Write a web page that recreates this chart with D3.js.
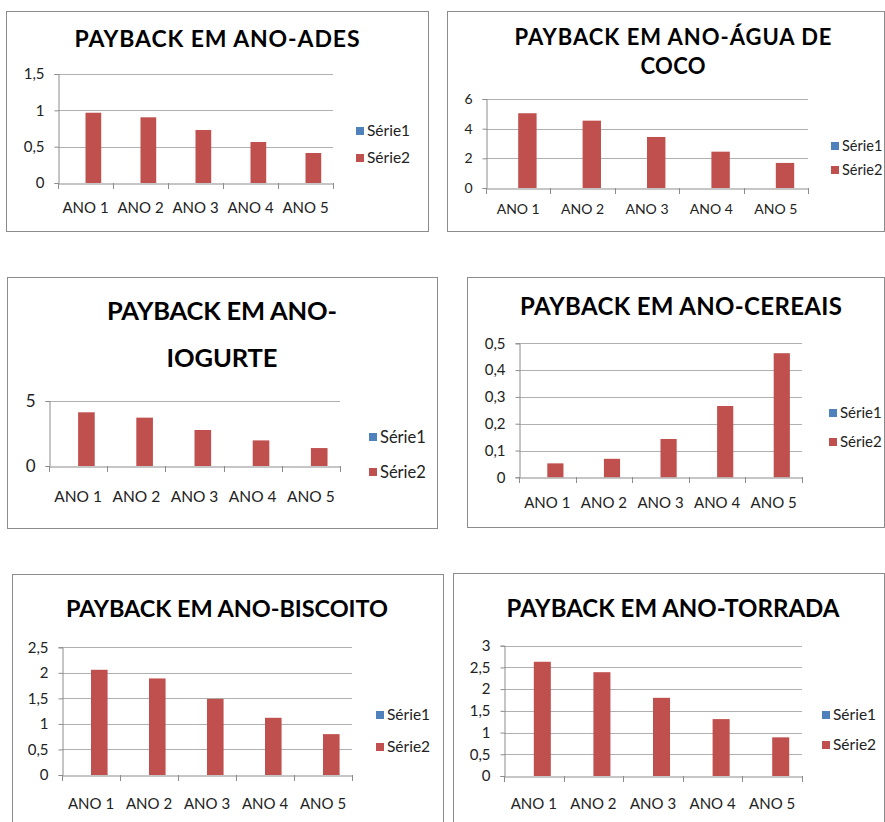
<!DOCTYPE html>
<html><head><meta charset="utf-8">
<script src="https://cdn.jsdelivr.net/npm/d3@7"></script>
<style>
html,body{margin:0;padding:0;background:#fff;}
svg{display:block;}
text{font-family:Lato,"Open Sans",sans-serif;fill:#222;}
</style></head>
<body>
<svg id="chart" width="885" height="822"></svg>
<script>
// ---- data ----
const categories = ["ANO 1","ANO 2","ANO 3","ANO 4","ANO 5"];
const seriesNames = ["Série1","Série2"];
const serie1 = [0,0,0,0,0];
const adesValues = [0.967,0.904,0.729,0.564,0.413];
const aguaValues = [5.04,4.54,3.44,2.45,1.69];
const iogurteValues = [4.13,3.72,2.77,1.97,1.38];
const cereaisValues = [0.052,0.069,0.143,0.266,0.463];
const biscoitoValues = [2.06,1.89,1.49,1.12,0.80];
const torradaValues = [2.63,2.39,1.80,1.31,0.89];
const adesTicks = [0,0.5,1,1.5];
const aguaTicks = [0,2,4,6];
const iogurteTicks = [0,5];
const cereaisTicks = [0,0.1,0.2,0.3,0.4,0.5];
const biscoitoTicks = [0,0.5,1,1.5,2,2.5];
const torradaTicks = [0,0.5,1,1.5,2,2.5,3];
const adesTitle = ["PAYBACK EM ANO-ADES"];
const aguaTitle = ["PAYBACK EM ANO-ÁGUA DE","COCO"];
const iogurteTitle = ["PAYBACK EM ANO-","IOGURTE"];
const cereaisTitle = ["PAYBACK EM ANO-CEREAIS"];
const biscoitoTitle = ["PAYBACK EM ANO-BISCOITO"];
const torradaTitle = ["PAYBACK EM ANO-TORRADA"];

// ---- layout (positions/styles only) ----
const panels = [
  {title:adesTitle, values:adesValues, ticks:adesTicks,
   box:[6,11,422,220], plot:[58,333,74,183], titleX:217, titleY:[47], titleSize:23, titleW:[285],
   tickSize:15, catSize:15, catY:213, legX:360, legY:[131,158], legSize:15.5},
  {title:aguaTitle, values:aguaValues, ticks:aguaTicks,
   box:[447,11,437,220], plot:[486,808,99,188], titleX:673, titleY:[45,74], titleSize:22, titleW:[317,65],
   tickSize:14, catSize:14, catY:214, legX:835, legY:[146,170], legSize:14.5},
  {title:iogurteTitle, values:iogurteValues, ticks:iogurteTicks,
   box:[7,277,430,251], plot:[49,340,401,466], titleX:222, titleY:[320,367], titleSize:25.5, titleW:[230,111],
   tickSize:17, catSize:15.5, catY:502, legX:373, legY:[437,472], legSize:16.5},
  {title:cereaisTitle, values:cereaisValues, ticks:cereaisTicks,
   box:[467,277,417,250], plot:[519,802,343.3,477.3], titleX:681, titleY:[315], titleSize:24, titleW:[322],
   tickSize:15, catSize:15, catY:508, legX:833, legY:[413,442], legSize:15},
  {title:biscoitoTitle, values:biscoitoValues, ticks:biscoitoTicks,
   box:[12,574,431,260], plot:[62,352,647.3,775], titleX:227, titleY:[617], titleSize:23.5, titleW:[322],
   tickSize:15, catSize:15, catY:809, legX:380, legY:[715,747], legSize:15.5},
  {title:torradaTitle, values:torradaValues, ticks:torradaTicks,
   box:[453,573,431,260], plot:[504,802,645.7,776], titleX:673, titleY:[617], titleSize:24, titleW:[333],
   tickSize:15, catSize:15, catY:809, legX:826, legY:[715,745], legSize:15.5}
];

const colors = {"Série1":"#4F81BD","Série2":"#C0504D"};
const fmt = d3.formatLocale({decimal:",",thousands:".",grouping:[3],currency:["",""]}).format("~g");
const svg = d3.select("#chart");

panels.forEach(p => {
  const g = svg.append("g");
  const [bx,by,bw,bh] = p.box;
  g.append("rect").attr("x",bx+0.5).attr("y",by+0.5).attr("width",bw).attr("height",bh)
    .attr("fill","#fff").attr("stroke","#8c8c8c").attr("stroke-width",1);

  p.title.forEach((t,i) => {
    const tx = g.append("text").attr("x",p.titleX).attr("y",p.titleY[i])
      .attr("text-anchor","middle").attr("font-weight","bold")
      .attr("font-size",p.titleSize).style("fill","#000").text(t);
    if (p.titleW[i]) tx.attr("textLength",p.titleW[i]).attr("lengthAdjust","spacing");
  });

  const [x0,x1,yTop,yBot] = p.plot;
  const y = d3.scaleLinear().domain([0,d3.max(p.ticks)]).range([yBot,yTop]);
  const x = d3.scaleBand().domain(categories).range([x0,x1]).paddingInner(0).paddingOuter(0);
  const xs = d3.scaleBand().domain(seriesNames).range([0,x.bandwidth()]).paddingInner(0).paddingOuter(0.75);

  g.append("g").selectAll("line").data(p.ticks.filter(t=>t>0)).join("line")
    .attr("x1",x0).attr("x2",x1).attr("y1",d=>Math.round(y(d))+0.5).attr("y2",d=>Math.round(y(d))+0.5)
    .attr("stroke","#b0b0b0").attr("stroke-width",1);

  const ya = g.append("g").attr("transform",`translate(${x0+0.5},0)`)
    .call(d3.axisLeft(y).tickValues(p.ticks).tickFormat(fmt).tickSize(4).tickPadding(10));
  ya.attr("font-family",null).attr("font-size",null);
  ya.select(".domain").attr("stroke","#8c8c8c");
  ya.selectAll(".tick line").attr("stroke","#8c8c8c");
  ya.selectAll(".tick text").attr("font-size",p.tickSize).style("fill","#222");

  const series = {"Série1":serie1,"Série2":p.values};
  seriesNames.forEach(s => {
    g.append("g").selectAll("rect").data(categories.map((c,i)=>({c,v:series[s][i]}))).join("rect")
      .attr("x",d=>x(d.c)+xs(s)).attr("width",xs.bandwidth())
      .attr("y",d=>y(d.v)).attr("height",d=>yBot-y(d.v))
      .attr("fill",colors[s]);
  });

  const xa = g.append("g").attr("transform",`translate(0,${Math.round(yBot)+0.5})`)
    .call(d3.axisBottom(x).tickSize(0).tickFormat(""));
  xa.select(".domain").attr("stroke","#8c8c8c");
  xa.selectAll(".tick").remove();
  g.append("g").selectAll("line").data(d3.range(categories.length+1)).join("line")
    .attr("x1",i=>Math.round(x0+i*x.step())+0.5).attr("x2",i=>Math.round(x0+i*x.step())+0.5)
    .attr("y1",Math.round(yBot)).attr("y2",Math.round(yBot)+6)
    .attr("stroke","#8c8c8c");
  g.append("g").selectAll("text").data(categories).join("text")
    .attr("x",c=>x(c)+x.bandwidth()/2).attr("y",p.catY)
    .attr("text-anchor","middle").attr("font-size",p.catSize).style("fill","#222").text(c=>c);

  seriesNames.forEach((s,i) => {
    g.append("rect").attr("x",p.legX-4).attr("y",p.legY[i]-4).attr("width",8).attr("height",8).attr("fill",colors[s]);
    g.append("text").attr("x",p.legX+7).attr("y",p.legY[i]).attr("dy","0.35em")
      .attr("font-size",p.legSize).style("fill","#222").text(s);
  });
});
</script>
</body></html>
